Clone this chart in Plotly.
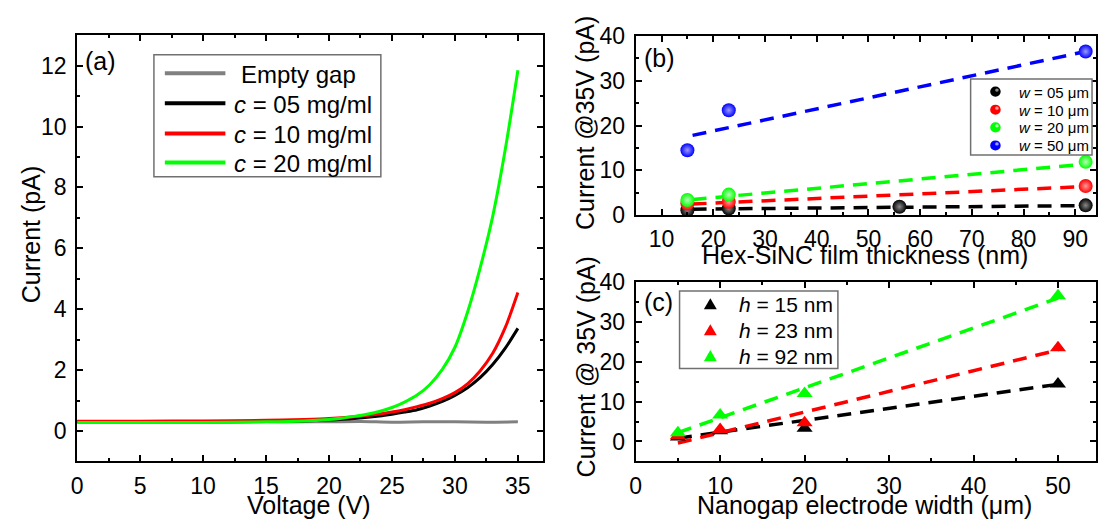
import plotly.graph_objects as go

W, H = 1098, 527
FONT = "Arial, Liberation Sans, sans-serif"


def px(x):
    return x / W


def py(y):
    return 1 - y / H


# ---------------- Panel (a): I-V curves ----------------
voltage_empty = [0, 2.5, 5, 7.5, 10, 12.5, 15, 17.5, 20, 22.5, 25, 27.5, 30, 32.5, 35]
current_empty = [0.30, 0.29, 0.31, 0.30, 0.29, 0.30, 0.31, 0.30, 0.30, 0.31, 0.29, 0.30, 0.30, 0.29, 0.30]

voltage_c05 = [0, 5, 10, 15, 18, 20, 22, 24, 25, 26, 27, 28, 29, 30, 31, 32, 33, 34, 35]
current_c05 = [0.30, 0.30, 0.30, 0.31, 0.33, 0.36, 0.41, 0.49, 0.55, 0.62, 0.70, 0.82, 0.97, 1.17, 1.42, 1.75, 2.18, 2.72, 3.37]

voltage_c10 = [0, 5, 10, 15, 18, 20, 22, 24, 25, 26, 27, 28, 29, 30, 31, 32, 33, 34, 35]
current_c10 = [0.32, 0.32, 0.33, 0.35, 0.38, 0.41, 0.47, 0.56, 0.62, 0.70, 0.80, 0.91, 1.06, 1.26, 1.55, 1.97, 2.55, 3.40, 4.55]

voltage_c20 = [0, 5, 10, 15, 18, 20, 21, 22, 23, 24, 25, 26, 27, 28, 29, 30, 31, 32, 33, 34, 35]
current_c20 = [0.28, 0.28, 0.28, 0.30, 0.33, 0.38, 0.42, 0.48, 0.55, 0.64, 0.77, 0.95, 1.18, 1.52, 2.02, 2.75, 3.90, 5.35, 7.05, 9.25, 11.85]

legend_a_labels = ["Empty gap", "<i>c</i> = 05 mg/ml", "<i>c</i> = 10 mg/ml", "<i>c</i> = 20 mg/ml"]
colors_a = ["#808080", "#000000", "#ff0000", "#00ff00"]

# ---------------- Panel (b): current vs film thickness ----------------
thickness_w05 = [15, 23, 56, 92]
current_w05 = [1.1, 1.5, 1.9, 2.2]
thickness_w10 = [15, 23, 92]
current_w10 = [2.6, 3.0, 6.5]
thickness_w20 = [15, 23, 92]
current_w20 = [3.4, 4.6, 11.9]
thickness_w50 = [15, 23, 92]
current_w50 = [14.5, 23.4, 36.5]

fit_b_x = [16, 92]
fit_b_w05 = [1.35, 2.15]
fit_b_w10 = [2.5, 6.4]
fit_b_w20 = [3.5, 11.4]
fit_b_w50 = [17.8, 36.5]

labels_b = ["<i>w</i> = 05 μm", "<i>w</i> = 10 μm", "<i>w</i> = 20 μm", "<i>w</i> = 50 μm"]
colors_b = ["#000000", "#ff0000", "#00ff00", "#0000ff"]
highlight_b = ["#8a8a8a", "#ff9a9a", "#b8ffb8", "#9a9aff"]

# ---------------- Panel (c): current vs electrode width ----------------
electrode_width = [5, 10, 20, 50]
current_h15 = [1.1, 2.7, 3.3, 14.4]
current_h23 = [1.5, 3.0, 4.7, 23.5]
current_h92 = [2.2, 6.6, 12.0, 36.5]

fit_c_x = [5, 50]
fit_c_h15 = [0.8, 14.3]
fit_c_h23 = [-0.4, 22.9]
fit_c_h92 = [2.2, 35.9]

labels_c = ["<i>h</i> = 15 nm", "<i>h</i> = 23 nm", "<i>h</i> = 92 nm"]
colors_c = ["#000000", "#ff0000", "#00ff00"]

DASH = "14px,9px"

fig = go.Figure()

# panel (a) traces
for v, c, col in [(voltage_empty, current_empty, colors_a[0]),
                  (voltage_c05, current_c05, colors_a[1]),
                  (voltage_c10, current_c10, colors_a[2]),
                  (voltage_c20, current_c20, colors_a[3])]:
    fig.add_trace(go.Scatter(x=v, y=c, mode="lines", xaxis="x", yaxis="y",
                             line=dict(color=col, width=3, shape="spline", smoothing=0.8),
                             showlegend=False, hoverinfo="skip"))

# panel (b) fit lines
for fy, col in zip([fit_b_w05, fit_b_w10, fit_b_w20, fit_b_w50], colors_b):
    fig.add_trace(go.Scatter(x=fit_b_x, y=fy, mode="lines", xaxis="x2", yaxis="y2",
                             line=dict(color=col, width=3.5, dash=DASH),
                             showlegend=False, hoverinfo="skip"))
# panel (b) markers
for tx, cy, col, hl, lab in zip([thickness_w05, thickness_w10, thickness_w20, thickness_w50],
                                [current_w05, current_w10, current_w20, current_w50],
                                colors_b, highlight_b, labels_b):
    fig.add_trace(go.Scatter(x=tx, y=cy, mode="markers", xaxis="x2", yaxis="y2",
                             marker=dict(color=col, size=14, line=dict(width=0),
                                         gradient=dict(type="radial", color=hl)),
                             name=lab, showlegend=False))

# panel (c) fit lines
for fy, col in zip([fit_c_h15, fit_c_h23, fit_c_h92], colors_c):
    fig.add_trace(go.Scatter(x=fit_c_x, y=fy, mode="lines", xaxis="x3", yaxis="y3",
                             line=dict(color=col, width=3.5, dash=DASH),
                             showlegend=False, hoverinfo="skip"))
# panel (c) markers
for cy, col, lab in zip([current_h15, current_h23, current_h92], colors_c, labels_c):
    fig.add_trace(go.Scatter(x=electrode_width, y=cy, mode="markers", xaxis="x3", yaxis="y3",
                             marker=dict(color=col, size=14, symbol="triangle-up", line=dict(width=0)),
                             name=lab, showlegend=False))


def axis(rng, dtick, minor_dtick, domain, anchor, standoff, tick0=0):
    return dict(range=rng, domain=domain, anchor=anchor, dtick=dtick, tick0=tick0,
                ticks="inside", ticklen=6, tickwidth=2, tickcolor="black",
                showline=True, linewidth=2, linecolor="black", mirror="allticks",
                showgrid=False, zeroline=False, ticklabelstandoff=standoff,
                tickfont=dict(family=FONT, size=23, color="black"),
                minor=dict(dtick=minor_dtick, tick0=tick0, ticks="inside", ticklen=3,
                           tickwidth=1.5, tickcolor="black", showgrid=False))


xa = axis([0, 37], 5, 2.5, [px(71.7), px(541)], "y", 3)
ya = axis([-1, 13], 2, 1, [py(471.7), py(23.3)], "x", 4)
xb = axis([5, 94.0], 10, 5, [px(634.3), 1.0], "y2", 2)
yb = axis([0, 40], 10, 5, [py(212.7), py(24)], "x2", 4)
xc = axis([0, 54.5], 10, 5, [px(634.3), 1.0], "y3", 3)
yc = axis([-5, 40], 10, 5, [py(471.7), py(282.7)], "x3", 4)

annotations = []
shapes = []


def text(s, x, y, size=25, angle=0, xanchor="center", yanchor="middle"):
    annotations.append(dict(text=s, x=px(x), y=py(y), xref="paper", yref="paper",
                            showarrow=False, textangle=angle, xanchor=xanchor, yanchor=yanchor,
                            font=dict(family=FONT, size=size, color="black")))


def box(x0, y0, x1, y1):
    shapes.append(dict(type="rect", xref="paper", yref="paper", x0=px(x0), x1=px(x1),
                       y0=py(y1), y1=py(y0), line=dict(color="#707070", width=1.5),
                       fillcolor="white", layer="above"))


text("(a)", 78, 50, xanchor="left")
text("(b)", 641, 47, xanchor="left")
text("(c)", 641, 304, xanchor="left")
text("Current (pA)", 25, 233, angle=-90)
text("Voltage (V)", 305, 518)
text("Current @35V (pA)", 584, 116, angle=-90)
text("Hex-SiNC film thickness (nm)", 865, 255)
text("Current @ 35V (pA)", 584, 372, angle=-90)
text("Nanogap electrode width (μm)", 865, 518)

# legend for panel (a)
box(149, 44, 377.6, 172.3)
rows_a = [63.3, 95, 126.7, 157.3]
text_x_a = [235, 228, 228, 228]
for lab, col, ry, tx in zip(legend_a_labels, colors_a, rows_a, text_x_a):
    shapes.append(dict(type="line", xref="paper", yref="paper", x0=px(160), x1=px(221),
                       y0=py(ry), y1=py(ry), line=dict(color=col, width=4), layer="above"))
    text(lab, tx, ry + 1, size=24, xanchor="left")

# legend for panel (b)
box(971.7, 69.3, 1094, 149.3)
rows_b = [82.7, 101.7, 120.3, 139.3]
for lab, col, hl, ry in zip(labels_b, colors_b, highlight_b, rows_b):
    r = 5.3
    shapes.append(dict(type="circle", xref="paper", yref="paper",
                       x0=px(996.7 - r), x1=px(996.7 + r), y0=py(ry + r), y1=py(ry - r),
                       fillcolor=col, line=dict(width=0), layer="above"))
    r2 = 1.8
    shapes.append(dict(type="circle", xref="paper", yref="paper",
                       x0=px(998.2 - r2), x1=px(998.2 + r2), y0=py(ry - 1.6 + r2), y1=py(ry - 1.6 - r2),
                       fillcolor=hl, line=dict(width=0), layer="above"))
    text(lab, 1018, ry + 0.5, size=15, xanchor="left")

# legend for panel (c)
box(678.5, 292.3, 838, 374)
rows_c = [305.9, 333.1, 360.4]
for lab, col, ry in zip(labels_c, colors_c, rows_c):
    cx, hw, hh = 709.5, 6.5, 5.8
    path = "M {:.5f},{:.5f} L {:.5f},{:.5f} L {:.5f},{:.5f} Z".format(
        px(cx - hw), py(ry + hh), px(cx + hw), py(ry + hh), px(cx), py(ry - hh))
    shapes.append(dict(type="path", xref="paper", yref="paper", path=path,
                       fillcolor=col, line=dict(width=0), layer="above"))
    text(lab, 736.5, ry + 1, size=21, xanchor="left")

fig.update_layout(
    width=W, height=H,
    margin=dict(l=0, r=0, t=0, b=0),
    paper_bgcolor="white", plot_bgcolor="white",
    font=dict(family=FONT, color="black"),
    showlegend=False,
    xaxis=xa, yaxis=ya, xaxis2=xb, yaxis2=yb, xaxis3=xc, yaxis3=yc,
    annotations=annotations, shapes=shapes,
)

fig.write_html("out.html")
